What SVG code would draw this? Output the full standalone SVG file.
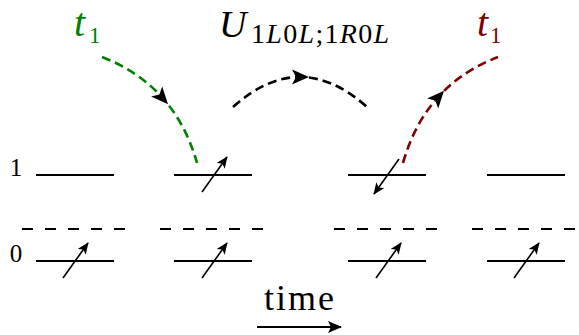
<svg xmlns="http://www.w3.org/2000/svg" width="579" height="335" viewBox="0 0 579 335">
<style>
.lvl{stroke:#000;stroke-width:2;fill:none}
.gap{stroke:#000;stroke-width:2;fill:none;stroke-dasharray:11 12}
.spin{stroke:#000;stroke-width:1.6;fill:none;marker-end:url(#sh)}
.curve{fill:none;stroke-width:2.6;stroke-dasharray:9 5}
text{font-family:'Liberation Serif',serif}
.it{font-style:italic}
</style>
<defs>
<marker id="sh" markerUnits="userSpaceOnUse" viewBox="0 0 12 10" refX="11" refY="5" markerWidth="12" markerHeight="10" orient="auto">
<path d="M0,0 L12,5 L0,10 L3,5 Z" fill="#000"/>
</marker>
<marker id="th" markerUnits="userSpaceOnUse" viewBox="0 0 14 12" refX="13" refY="6" markerWidth="14" markerHeight="12" orient="auto">
<path d="M0,0 L14,6 L0,12 L3,6 Z" fill="#000"/>
</marker>
<path id="mid" d="M9,0 L-8,-7.5 L-4,0 L-8,7.5 Z" fill="#000"/>
</defs>

<g id="labels">
<text x="16" y="176" font-size="25" text-anchor="middle">1</text>
<text x="16" y="262" font-size="25" text-anchor="middle">0</text>
</g>

<g id="col1">
<line class="lvl" x1="36" y1="175" x2="114" y2="175"/>
<line class="gap" x1="22" y1="229" x2="128" y2="229"/>
<line class="lvl" x1="36" y1="261" x2="114" y2="261"/>
<line class="spin" x1="63" y1="278" x2="88" y2="243"/>
</g>
<g id="col2">
<line class="lvl" x1="174" y1="175" x2="252" y2="175"/>
<line class="gap" x1="160" y1="229" x2="266" y2="229"/>
<line class="lvl" x1="174" y1="261" x2="252" y2="261"/>
<line class="spin" x1="202" y1="192" x2="227" y2="157"/>
<line class="spin" x1="202" y1="278" x2="227" y2="243"/>
</g>
<g id="col3">
<line class="lvl" x1="348" y1="175" x2="426" y2="175"/>
<line class="gap" x1="334" y1="229" x2="440" y2="229"/>
<line class="lvl" x1="348" y1="261" x2="426" y2="261"/>
<line class="spin" x1="399" y1="159" x2="374" y2="194"/>
<line class="spin" x1="376" y1="278" x2="401" y2="243"/>
</g>
<g id="col4">
<line class="lvl" x1="487" y1="175" x2="565" y2="175"/>
<line class="gap" x1="472" y1="229" x2="578" y2="229"/>
<line class="lvl" x1="487" y1="261" x2="565" y2="261"/>
<line class="spin" x1="514" y1="278" x2="539" y2="243"/>
</g>

<g id="connectors">
<path class="curve" stroke="#008000" d="M102,57 Q175,85 197,163"/>
<use href="#mid" transform="translate(162,97.5) rotate(48)"/>
<path class="curve" stroke="#000" d="M233,107 Q300,47 367,107"/>
<use href="#mid" transform="translate(300,77)"/>
<path class="curve" stroke="#800000" d="M403,163 Q425,85 498,57"/>
<use href="#mid" transform="translate(438,97.5) rotate(-48)"/>
<line x1="257" y1="327" x2="341" y2="327" stroke="#000" stroke-width="2" marker-end="url(#th)"/>
</g>

<g id="t1-green">
<text class="it" x="74" y="36" font-size="40" fill="#008000">t</text>
<text x="89" y="43" font-size="23" fill="#008000">1</text>
</g>
<g id="U">
<text class="it" x="219" y="37" font-size="38">U</text>
<text x="251" y="43" font-size="28" letter-spacing="1.3">1<tspan class="it">L</tspan>0<tspan class="it">L</tspan>;1<tspan class="it">R</tspan>0<tspan class="it">L</tspan></text>
</g>
<g id="t1-red">
<text class="it" x="477" y="36" font-size="40" fill="#800000">t</text>
<text x="490" y="43" font-size="23" fill="#800000">1</text>
</g>
<g id="time">
<text x="264" y="310" font-size="36" letter-spacing="2">time</text>
</g>
</svg>
